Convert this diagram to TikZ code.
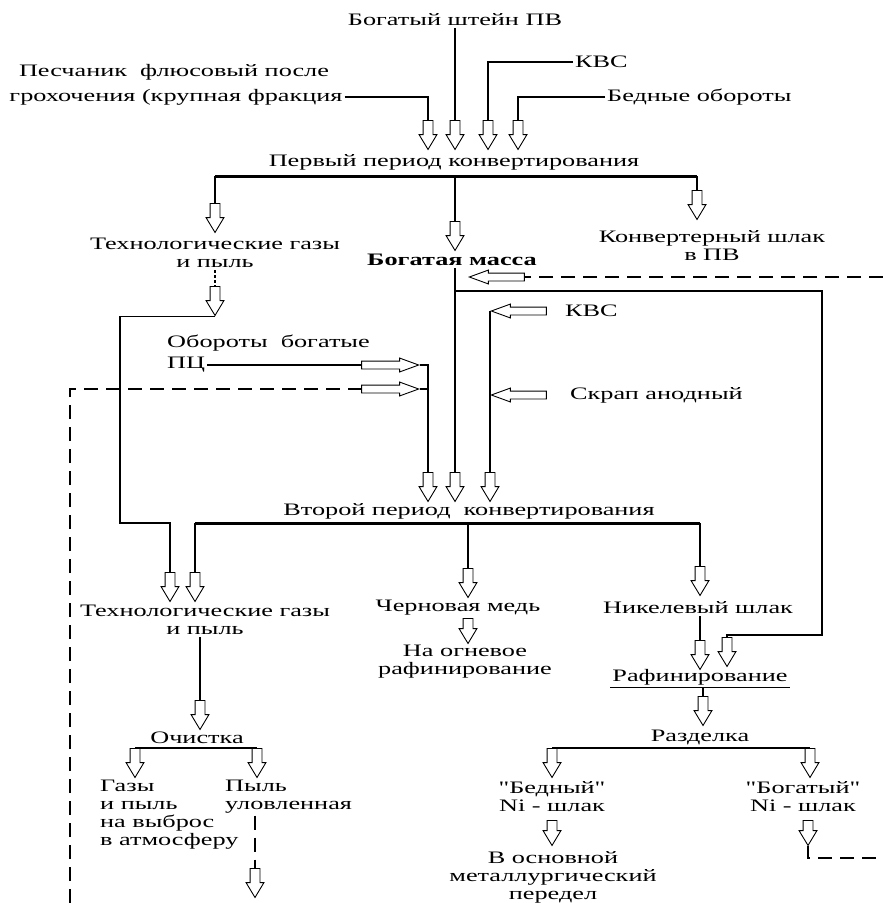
\documentclass[tikz,border=0pt]{standalone}
\usepackage{fontspec}
\setmainfont{Liberation Serif}[FakeStretch=1.5, Ligatures=TeXOff]
\usetikzlibrary{shapes.arrows}
\tikzstyle{txt} = [draw=none, inner sep=2pt, align=center, font=\fontsize{17.5}{18}\selectfont]
\tikzstyle{ln} = [line width=1.1pt]
\tikzstyle{bar} = [line width=3pt]
\tikzstyle{ret} = [line width=1.1pt, dash pattern=on 14pt off 8pt]
\tikzstyle{blk} = [single arrow, draw, line width=0.9pt, inner xsep=0pt, fill=white]
\tikzstyle{dn} = [blk, inner ysep=4.5pt, minimum height=29pt, single arrow head extend=4pt, single arrow tip angle=62, rotate=-90, anchor=tail]
\tikzstyle{lt} = [blk, inner ysep=3.5pt, minimum height=55pt, single arrow head extend=3pt, single arrow tip angle=40, rotate=180, anchor=tip]
\tikzstyle{rt} = [blk, inner ysep=3.5pt, minimum height=57pt, single arrow head extend=3pt, single arrow tip angle=40, anchor=tip]
\begin{document}
\begin{tikzpicture}[x=1pt, y=-1pt]
\useasboundingbox (0,0) rectangle (883,903);

\node[txt] (n1) at (455,20) {Богатый штейн ПВ};
\node[txt] (n2a) at (174,72) {Песчаник\ \ флюсовый после};
\node[txt] (n2b) at (176,97) {грохочения (крупная фракция};
\node[txt, anchor=west] (n3) at (573,62) {КВС};
\node[txt, anchor=west] (n4) at (605,97) {Бедные обороты};
\foreach \n/\x in {1/428, 2/455, 3/488, 4/518}
  \node[dn] (a\n) at (\x,120) {};
\draw[ln] (n1) -- (a2.tail);
\draw[ln] (n2b.east) -| (a1.tail);
\draw[ln] (n3.west) -| (a3.tail);
\draw[ln] (n4.west) -| (a4.tail);

\node[txt] (p1) at (454,162) {Первый период конвертирования};
\coordinate (k1) at (455,176);
\foreach \n/\x/\y in {5/215/203, 6/455/221, 7/697/190}
  \node[dn] (a\n) at (\x,\y) {};
\draw[bar] (a5.tail |- k1) -- (a7.tail |- k1);
\foreach \n in {5,6,7}
  \draw[ln] (a\n.tail |- k1) -- (a\n.tail);

\node[txt] (n5) at (215,253) {Технологические газы\\и пыль};
\node[txt, font=\fontsize{17.5}{18}\selectfont\bfseries] (n6) at (452,260) {Богатая масса};
\node[txt] (n7) at (712,246) {Конвертерный шлак\\в ПВ};

\node[dn] (a8) at (215,286) {};
\draw[ln, dash pattern=on 3pt off 2pt] (n5) -- (a8.tail);
\coordinate (j2) at (120,523);
\node[dn] (a9) at (170,572) {};
\draw[ln] (a8.tip) -| (j2) -| (a9.tail);

\node[txt, anchor=west] (n8a) at (165,343) {Обороты\ \ богатые};
\node[txt, anchor=west] (n8b) at (165,365) {ПЦ};
\node[rt] (r1) at (420,365) {};
\node[rt] (r2) at (420,389) {};
\foreach \n/\x in {10/428, 11/455, 12/490}
  \node[dn] (a\n) at (\x,472) {};
\draw[ln] (n8b) -- (r1.tail);
\draw[ln] (r1.tip) -| (a10.tail);
\coordinate (e1) at (70,903);
\draw[ret] (e1) |- (r2.tail);
\draw[ret] (r2.tip) -- (r2.tip -| a10.tail);

\draw[ln] (n6.south -| a11.tail) -- (a11.tail);
\coordinate (j1) at (455,291);
\coordinate (j3) at (822,635);
\node[dn] (a17) at (727,637) {};
\draw[ln] (j1) -| (j3) -| (a17.tail);
\coordinate (e2) at (883,277);
\node[lt] (l1) at (468,277) {};
\draw[ret] (e2) -- (l1.tail);

\node[txt, anchor=west] (n9) at (563,311) {КВС};
\node[lt] (l2) at (490,311) {};
\draw[ln] (l2.tip) -- (a12.tail);
\node[txt, anchor=west] (n10) at (568,395) {Скрап анодный};
\node[lt] (l3) at (490,395) {};

\node[txt] (p2) at (469,511) {Второй период\ \ конвертирования};
\coordinate (k2) at (469,523);
\foreach \n/\x/\y in {13/195/572, 14/468/568, 15/700/566}
  \node[dn] (a\n) at (\x,\y) {};
\draw[bar] (a13.tail |- k2) -- (a15.tail |- k2);
\foreach \n in {13,14,15}
  \draw[ln] (a\n.tail |- k2) -- (a\n.tail);

\node[txt] (n11) at (205,620) {Технологические газы\\и пыль};
\node[txt] (n12) at (458,608) {Черновая медь};
\node[dn, minimum height=25pt] (a16) at (468,618) {};
\node[txt] (n13) at (465,662) {На огневое\\рафинирование};
\node[txt] (n14) at (698,608) {Никелевый шлак};
\node[dn] (a18) at (700,640) {};
\draw[ln] (n14.south -| a18.tail) -- (a18.tail);
\node[txt] (n15) at (700,677) {Рафинирование};
\draw[ln] (n15.south west) -- (n15.south east);
\node[dn] (a19) at (703,696) {};
\draw[ln] (n15.south -| a19.tail) -- (a19.tail);
\node[txt] (n16) at (700,737) {Разделка};
\node[dn] (a20) at (552,748) {};
\node[dn] (a21) at (810,748) {};
\draw[ln] (a20.tail) -- (a21.tail);
\node[txt] (n17) at (552,797) {"Бедный"\\Ni - шлак};
\node[txt] (n18) at (803,797) {"Богатый"\\Ni - шлак};
\node[dn, minimum height=25pt] (a22) at (552,820) {};
\node[txt] (n19) at (553,877) {В основной\\металлургический\\передел};
\node[dn, minimum height=25pt] (a23) at (808,820) {};
\coordinate (e3) at (883,858);
\draw[ret] (a23.tip) |- (e3);

\node[dn] (a24) at (200,700) {};
\draw[ln] (n11.south -| a24.tail) -- (a24.tail);
\node[txt] (n20) at (197,738) {Очистка};
\node[dn] (a25) at (135,748) {};
\node[dn] (a26) at (257,748) {};
\draw[ln] (a25.tail) -- (a26.tail);
\node[txt, anchor=north west, align=left] (n21) at (98,778) {Газы\\и пыль\\на выброс\\в атмосферу};
\node[txt, anchor=north west, align=left] (n22) at (223,778) {Пыль\\уловленная};
\node[dn] (a27) at (255,868) {};
\draw[ret] (n22.south -| a27.tail) -- (a27.tail);
\end{tikzpicture}
\end{document}
